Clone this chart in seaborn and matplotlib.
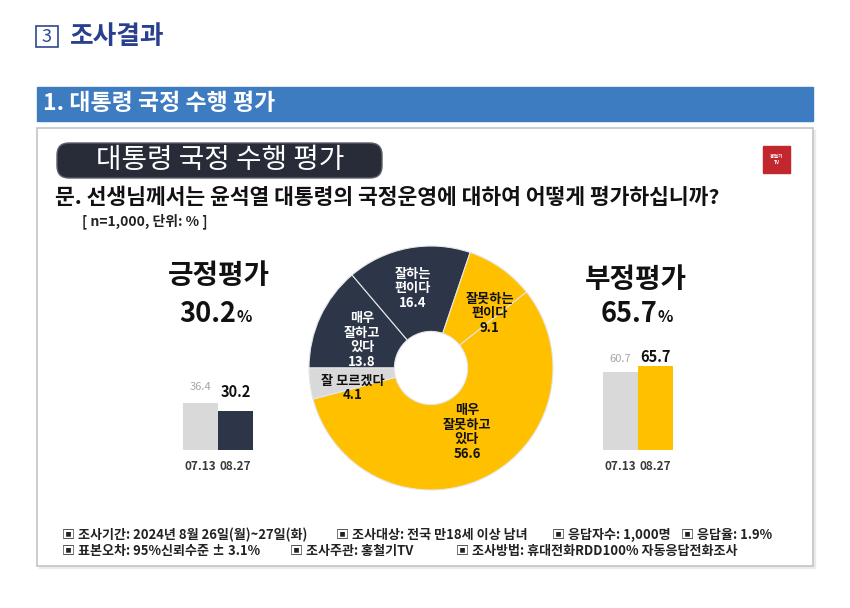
import numpy as np
import pandas as pd
import matplotlib.pyplot as plt
from matplotlib.patches import Rectangle, FancyBboxPatch
import seaborn as sns

# 대통령 국정 수행 평가 (n=1,000, 단위: %)
slice_labels = ['매우\n잘하고\n있다', '잘하는\n편이다', '잘못하는\n편이다', '매우\n잘못하고\n있다', '잘 모르겠다']
slice_values = [13.8, 16.4, 9.1, 56.6, 4.1]
slice_colors = ['#2D3648', '#2D3648', '#FFC000', '#FFC000', '#D9D9D9']
slice_text_colors = ['white', 'white', '#111111', '#111111', '#111111']

dates = ['07.13', '08.27']
positive = [36.4, 30.2]
negative = [60.7, 65.7]

notes_line1 = ['조사기간: 2024년 8월 26일(월)~27일(화)', '조사대상: 전국 만18세 이상 남녀',
               '응답자수: 1,000명', '응답율: 1.9%']
notes_line2 = ['표본오차: 95%신뢰수준 ± 3.1%', '조사주관: 홍철기TV',
               '조사방법: 휴대전화RDD100% 자동응답전화조사']
notes_x1 = [62, 336, 552, 681]
notes_x2 = [62, 290, 456]

# label placement inside the ring (fraction of radius, angle nudge in degrees)
label_radius = [0.61, 0.67, 0.66, 0.60, 0.66]
label_nudge = [2.7, 1.9, -11.9, 2.7, 7.0]

NAVY = '#2D3648'
YELLOW = '#FFC000'
LIGHT = '#D9D9D9'
W, H = 850, 608

sns.set_style('white')
plt.rcParams['font.family'] = ['Noto Sans CJK KR', 'DejaVu Sans']

fig = plt.figure(figsize=(W / 100, H / 100), dpi=100)
bg = fig.add_axes([0, 0, 1, 1])
bg.set_xlim(0, W)
bg.set_ylim(H, 0)
bg.axis('off')


def px_axes(x0, y0, x1, y1):
    return fig.add_axes([x0 / W, 1 - y1 / H, (x1 - x0) / W, (y1 - y0) / H])


# header
bg.add_patch(Rectangle((36, 26), 22, 21, fill=False, ec='#2F4790', lw=1.2))
bg.text(47, 36.5, '3', ha='center', va='center', fontsize=13, color='#2F4790')
bg.text(70, 36, '조사결과', fontsize=18.5, fontweight='bold', color='#2B3F8F', va='center')

bg.add_patch(Rectangle((37, 87), 776, 34, color='#3E7CC2'))
bg.text(43, 104, '1. 대통령 국정 수행 평가', fontsize=16.5, fontweight='bold', color='white', va='center')

# content box with a faint shadow
bg.add_patch(Rectangle((39, 130), 776, 438, color='#EBEBEB'))
bg.add_patch(Rectangle((37, 128), 776, 438, fc='white', ec='#C4C4C4', lw=1.2))

# title pill, logo, question
bg.add_patch(FancyBboxPatch((57, 143), 325, 35, boxstyle='round,pad=0,rounding_size=12',
                            fc='#272C38', ec='#5A5F6B', lw=1))
bg.text(220, 160.5, '대통령 국정 수행 평가', fontsize=20, color='white', ha='center', va='center')
bg.add_patch(Rectangle((763, 146), 27, 27, color='#C1272D'))
bg.text(776.5, 159.5, '홍철기\nTV', fontsize=3.5, color='white', fontweight='bold',
        ha='center', va='center', linespacing=1.0)
bg.text(55, 197, '문. 선생님께서는 윤석열 대통령의 국정운영에 대하여 어떻게 평가하십니까?',
        fontsize=15.5, fontweight='bold', color='#111111', va='center')
bg.text(82, 221, '[ n=1,000, 단위: % ]', fontsize=10, fontweight='bold', color='#222222', va='center')

# headline numbers
pos_total = sum(slice_values[:2])
neg_total = sum(slice_values[2:4])
bg.text(219, 276, '긍정평가', fontsize=20, fontweight='bold', color='#111111', ha='center', va='center')
bg.text(236, 322, f'{pos_total:.1f}', fontsize=19.5, fontweight='bold', color='#111111', ha='right', va='baseline')
bg.text(237, 322, '%', fontsize=11.5, fontweight='bold', color='#111111', ha='left', va='baseline')
bg.text(636, 280, '부정평가', fontsize=20, fontweight='bold', color='#111111', ha='center', va='center')
bg.text(657, 322, f'{neg_total:.1f}', fontsize=19.5, fontweight='bold', color='#111111', ha='right', va='baseline')
bg.text(658, 322, '%', fontsize=11.5, fontweight='bold', color='#111111', ha='left', va='baseline')

# donut
cx, cy, r = 431, 368, 122
ax_pie = px_axes(cx - r, cy - r, cx + r, cy + r)
labels = [f'{l}\n{v:.1f}' for l, v in zip(slice_labels, slice_values)]
wedges, texts = ax_pie.pie(slice_values, labels=labels, colors=slice_colors, startangle=180,
                           counterclock=False, labeldistance=0.64,
                           wedgeprops=dict(width=0.7, edgecolor='#E6E6E6', linewidth=0.8),
                           textprops=dict(fontsize=9.5, fontweight='bold'))
for w, t, c, lr, dn in zip(wedges, texts, slice_text_colors, label_radius, label_nudge):
    ang = np.deg2rad((w.theta1 + w.theta2) / 2 + dn)
    t.set_position((lr * np.cos(ang), lr * np.sin(ang)))
    t.set_ha('center')
    t.set_color(c)
    t.set_linespacing(1.05)
ax_pie.set_xlim(-1, 1)
ax_pie.set_ylim(-1, 1)


# comparison bars
def draw_bars(x0, x1, values, colors, pads):
    ax = px_axes(x0, 450 - 80 * 1.28, x1, 450)
    df = pd.DataFrame({'date': dates, 'value': values})
    sns.barplot(data=df, x='date', y='value', hue='date', palette=colors, width=1.0,
                saturation=1, linewidth=0, legend=False, ax=ax)
    ax.set_xlim(-0.5, 1.5)
    ax.set_ylim(0, 80)
    ax.set_facecolor('none')
    ax.set_xlabel('')
    ax.set_ylabel('')
    ax.set_yticks([])
    sns.despine(ax=ax, left=True, bottom=True)
    ax.tick_params(axis='x', length=0, pad=7)
    for lab in ax.get_xticklabels():
        lab.set_fontsize(8.5)
        lab.set_fontweight('bold')
        lab.set_color('#3A3A3A')
    styles = [dict(color='#A6A6A6', fontsize=8), dict(color='#111111', fontsize=10.5, fontweight='bold')]
    for cont, st, pad in zip(ax.containers, styles, pads):
        ax.bar_label(cont, fmt='%.1f', padding=pad, **st)


draw_bars(183, 253, positive, [LIGHT, NAVY], [8, 8])
draw_bars(603, 673, negative, [LIGHT, YELLOW], [6, 1])

# footnotes
for x, s in zip(notes_x1, notes_line1):
    bg.text(x, 535, '▣ ' + s, fontsize=9.4, fontweight='bold', color='#222222', va='center')
for x, s in zip(notes_x2, notes_line2):
    bg.text(x, 551, '▣ ' + s, fontsize=9.4, fontweight='bold', color='#222222', va='center')

fig.savefig('out.png', dpi=100)
